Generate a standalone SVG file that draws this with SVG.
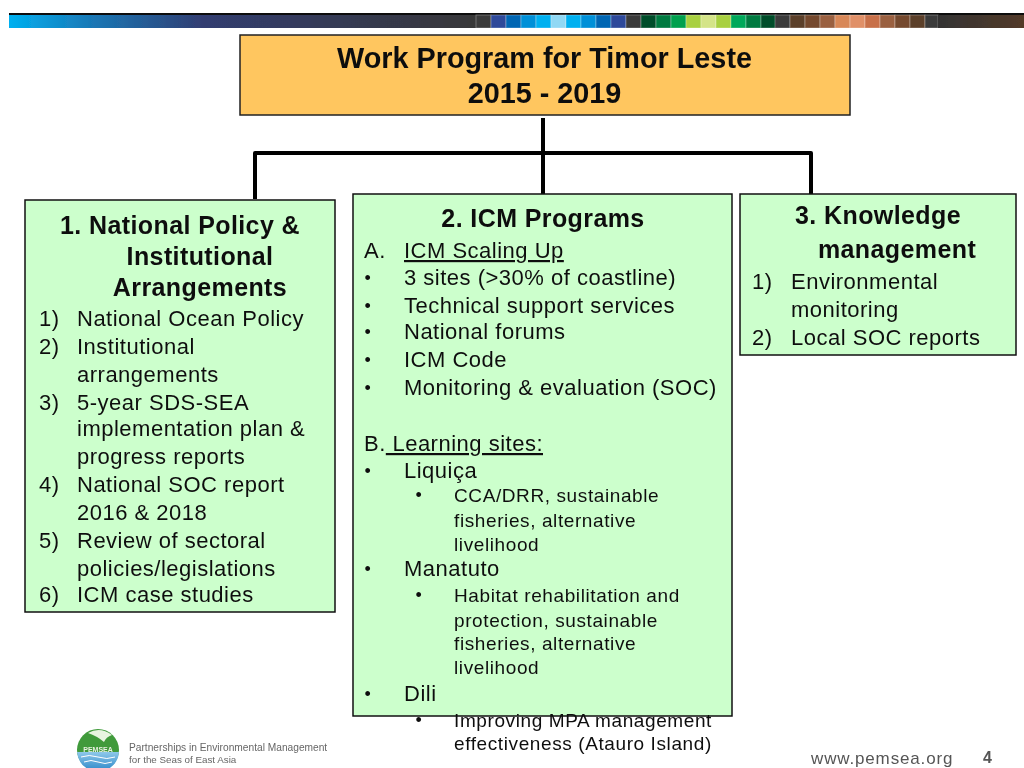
<svg xmlns="http://www.w3.org/2000/svg" width="1024" height="768" viewBox="0 0 1024 768">
<defs>
<linearGradient id="bar1" x1="0" x2="1" y1="0" y2="0"><stop offset="0" stop-color="#00b0f0"/><stop offset="0.18" stop-color="#1a77b5"/><stop offset="0.42" stop-color="#323c70"/><stop offset="1" stop-color="#383838"/></linearGradient>
<linearGradient id="bar2" x1="0" x2="1" y1="0" y2="0"><stop offset="0" stop-color="#333333"/><stop offset="1" stop-color="#533a28"/></linearGradient>
<linearGradient id="sea" x1="0" x2="0" y1="0" y2="1"><stop offset="0" stop-color="#8ec8ea"/><stop offset="1" stop-color="#2a86c8"/></linearGradient>
<filter id="soft" x="-5%" y="-5%" width="110%" height="110%"><feGaussianBlur stdDeviation="0.4"/></filter>
</defs>
<style>
text{font-family:"Liberation Sans",Arial,sans-serif;fill:#111}
.box{fill:#ccffcc;stroke:#111;stroke-width:1.5}
.h{font-size:25px;font-weight:bold;text-anchor:middle;letter-spacing:.4px}
.t{font-size:22px;letter-spacing:.5px}
.s{font-size:19px;letter-spacing:.6px}
.b{font-size:18px}
.c{fill:none;stroke:#000;stroke-width:4;stroke-linejoin:round}
.u{text-decoration:underline}
.cell{stroke:#fff;stroke-opacity:.3;stroke-width:1}
</style>
<g filter="url(#soft)">
<g id="header-bar">
<rect x="9" y="13" width="1015" height="2" fill="#111"/>
<rect x="9" y="15" width="467" height="13" fill="url(#bar1)"/>
<g class="cell">
<rect x="476" y="15" width="15" height="13" fill="#3a3a3a"/>
<rect x="491" y="15" width="15" height="13" fill="#2e4a9a"/>
<rect x="506" y="15" width="15" height="13" fill="#0066b3"/>
<rect x="521" y="15" width="15" height="13" fill="#0090d8"/>
<rect x="536" y="15" width="15" height="13" fill="#00b0f0"/>
<rect x="551" y="15" width="15" height="13" fill="#90d8f4"/>
<rect x="566" y="15" width="15" height="13" fill="#00b0f0"/>
<rect x="581" y="15" width="15" height="13" fill="#0090d8"/>
<rect x="596" y="15" width="15" height="13" fill="#0066b3"/>
<rect x="611" y="15" width="15" height="13" fill="#2e4a9a"/>
<rect x="626" y="15" width="15" height="13" fill="#3a3a3a"/>
<rect x="641" y="15" width="15" height="13" fill="#004d2a"/>
<rect x="656" y="15" width="15" height="13" fill="#007a40"/>
<rect x="671" y="15" width="15" height="13" fill="#00a04e"/>
<rect x="686" y="15" width="15" height="13" fill="#a8d040"/>
<rect x="701" y="15" width="15" height="13" fill="#d4e488"/>
<rect x="716" y="15" width="15" height="13" fill="#a8d040"/>
<rect x="731" y="15" width="15" height="13" fill="#00a85a"/>
<rect x="746" y="15" width="15" height="13" fill="#007a40"/>
<rect x="761" y="15" width="15" height="13" fill="#004d2a"/>
<rect x="775" y="15" width="15" height="13" fill="#3a3a3a"/>
<rect x="790" y="15" width="15" height="13" fill="#5c3f2a"/>
<rect x="805" y="15" width="15" height="13" fill="#754a2e"/>
<rect x="820" y="15" width="15" height="13" fill="#9a6040"/>
<rect x="835" y="15" width="15" height="13" fill="#d88858"/>
<rect x="850" y="15" width="15" height="13" fill="#e09068"/>
<rect x="865" y="15" width="15" height="13" fill="#c87048"/>
<rect x="880" y="15" width="15" height="13" fill="#9a6040"/>
<rect x="895" y="15" width="15" height="13" fill="#754a2e"/>
<rect x="910" y="15" width="15" height="13" fill="#5c3f2a"/>
<rect x="925" y="15" width="13" height="13" fill="#3a3a3a"/>
</g>
<rect x="938" y="15" width="86" height="13" fill="url(#bar2)"/>
</g>
<g id="connectors">
<path class="c" d="M543 118V197"/>
<path class="c" d="M255 199V153H811V200"/>
</g>
<g id="title">
<rect x="240" y="35" width="610" height="80" fill="#ffc65e" stroke="#222" stroke-width="1.5"/>
<text x="544.500" y="68" font-size="28.800" font-weight="bold" text-anchor="middle">Work Program for Timor Leste</text>
<text x="544.500" y="103" font-size="28.800" font-weight="bold" text-anchor="middle">2015 - 2019</text>
</g>
<g id="node-1">
<rect class="box" x="25" y="200" width="310" height="412"/>
<text class="h" x="180" y="234">1. National Policy &amp;</text>
<text class="h" x="200" y="265">Institutional</text>
<text class="h" x="200" y="296">Arrangements</text>
<g class="t">
<text x="39" y="326">1)</text><text x="77" y="326">National Ocean Policy</text>
<text x="39" y="354">2)</text><text x="77" y="354">Institutional</text>
<text x="77" y="382">arrangements</text>
<text x="39" y="410">3)</text><text x="77" y="410">5-year SDS-SEA</text>
<text x="77" y="436">implementation plan &amp;</text>
<text x="77" y="464">progress reports</text>
<text x="39" y="492">4)</text><text x="77" y="492">National SOC report</text>
<text x="77" y="520">2016 &amp; 2018</text>
<text x="39" y="548">5)</text><text x="77" y="548">Review of sectoral</text>
<text x="77" y="576">policies/legislations</text>
<text x="39" y="602">6)</text><text x="77" y="602">ICM case studies</text>
</g>
</g>
<g id="node-2">
<rect class="box" x="353" y="194" width="379" height="522"/>
<text class="h" x="543" y="227">2. ICM Programs</text>
<g class="t">
<text x="364" y="258">A.</text><text class="u" x="404" y="258">ICM Scaling Up</text>
<text class="b" x="364.500" y="284">•</text><text x="404" y="285">3 sites (&gt;30% of coastline)</text>
<text class="b" x="364.500" y="312">•</text><text x="404" y="313">Technical support services</text>
<text class="b" x="364.500" y="338">•</text><text x="404" y="339">National forums</text>
<text class="b" x="364.500" y="366">•</text><text x="404" y="367">ICM Code</text>
<text class="b" x="364.500" y="394">•</text><text x="404" y="395">Monitoring &amp; evaluation (SOC)</text>
<text x="364" y="451" xml:space="preserve">B.<tspan class="u"> Learning sites:</tspan></text>
<text class="b" x="364.500" y="477">•</text><text x="404" y="478">Liquiça</text>
<text class="b" x="364.500" y="575">•</text><text x="404" y="576">Manatuto</text>
<text class="b" x="364.500" y="700">•</text><text x="404" y="701">Dili</text>
</g>
<g class="s">
<text class="b" x="415.500" y="501">•</text><text x="454" y="502">CCA/DRR, sustainable</text>
<text x="454" y="527">fisheries, alternative</text>
<text x="454" y="551">livelihood</text>
<text class="b" x="415.500" y="601">•</text><text x="454" y="602">Habitat rehabilitation and</text>
<text x="454" y="627">protection, sustainable</text>
<text x="454" y="650">fisheries, alternative</text>
<text x="454" y="674">livelihood</text>
<text class="b" x="415.500" y="726">•</text><text x="454" y="727">Improving MPA management</text>
<text x="454" y="750">effectiveness (Atauro Island)</text>
</g>
</g>
<g id="node-3">
<rect class="box" x="740" y="194" width="276" height="161"/>
<text class="h" x="878" y="224">3. Knowledge</text>
<text class="h" x="897" y="258">management</text>
<g class="t">
<text x="752" y="289">1)</text><text x="791" y="289">Environmental</text>
<text x="791" y="317">monitoring</text>
<text x="752" y="345">2)</text><text x="791" y="345">Local SOC reports</text>
</g>
</g>
<g id="footer">
<circle cx="98" cy="750" r="21" fill="#3f9a3a"/>
<path d="M77 752H119A21 21 0 0 1 78 757Z" fill="url(#sea)"/>
<path d="M88 733q12-7 24 2q-6 2-8 7q-7-6-16-9Z" fill="#e8f4e0"/>
<path d="M81 757q8-3 17 0t17 0M84 762q7-3 14 0t14 0" fill="none" stroke="#fff" stroke-width="1"/>
<text x="98" y="752" font-size="7" font-weight="bold" text-anchor="middle" style="fill:#e8f0e0">PEMSEA</text>
<text x="129" y="751" font-size="10.200" style="fill:#666">Partnerships in Environmental Management</text>
<text x="129" y="763" font-size="9.800" style="fill:#666">for the Seas of East Asia</text>
<text x="811" y="764" font-size="17" letter-spacing=".85" style="fill:#555">www.pemsea.org</text>
<text x="983" y="763" font-size="16" font-weight="bold" style="fill:#555">4</text>
</g>
</g>
</svg>
